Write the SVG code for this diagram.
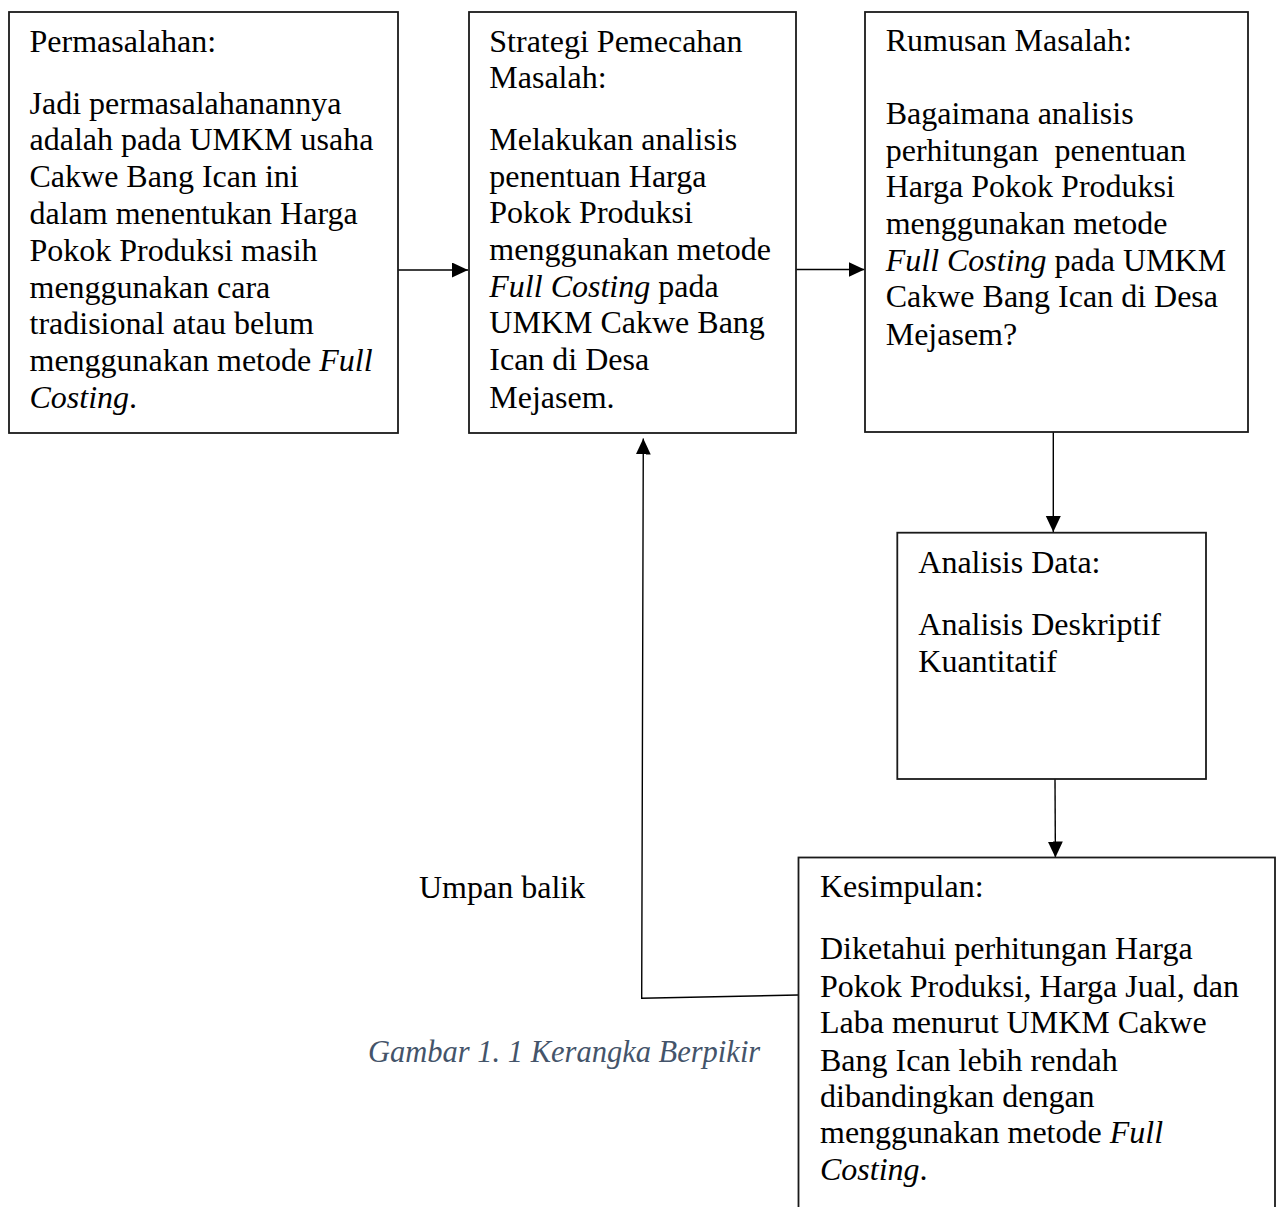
<svg xmlns="http://www.w3.org/2000/svg" width="1282" height="1207" viewBox="0 0 1282 1207">
<style>
.box{fill:#fff;stroke:#1a1a1a;stroke-width:1.8}
.t{font-family:"Liberation Serif","Times New Roman",serif;font-size:32px;fill:#000}
.i{font-style:italic}
.conn{fill:none;stroke:#000;stroke-width:1.4}
.cap{font-family:"Liberation Serif","Times New Roman",serif;font-size:30.5px;font-style:italic;fill:#44546A}
</style>
<defs>
<marker id="ah" markerUnits="userSpaceOnUse" markerWidth="16" markerHeight="16" refX="16" refY="7.5" orient="auto">
<path d="M0,0 L16,7.5 L0,15 z" fill="#000"/>
</marker>
</defs>
<rect width="1282" height="1207" fill="#fff"/>

<g id="connectors">
<line class="conn" x1="398" y1="270" x2="468" y2="270" marker-end="url(#ah)"/>
<line class="conn" x1="796" y1="269.5" x2="864.5" y2="269.5" marker-end="url(#ah)"/>
<line class="conn" x1="1053.3" y1="432" x2="1053.3" y2="532" marker-end="url(#ah)"/>
<line class="conn" x1="1055" y1="779" x2="1055.4" y2="857.5" marker-end="url(#ah)"/>
<path class="conn" d="M798,995 L641.7,998.3 L643.3,438.5" marker-end="url(#ah)"/>
</g>

<g id="node-permasalahan">
<rect class="box" x="9" y="12" width="389" height="421"/>
<text class="t" x="29.5" y="51.7">Permasalahan:</text>
<text class="t" x="29.5" y="113.5">Jadi permasalahanannya</text>
<text class="t" x="29.5" y="150.3">adalah pada UMKM usaha</text>
<text class="t" x="29.5" y="187.1">Cakwe Bang Ican ini</text>
<text class="t" x="29.5" y="223.9">dalam menentukan Harga</text>
<text class="t" x="29.5" y="260.7">Pokok Produksi masih</text>
<text class="t" x="29.5" y="297.5">menggunakan cara</text>
<text class="t" x="29.5" y="334.3">tradisional atau belum</text>
<text class="t" x="29.5" y="371.1">menggunakan metode <tspan class="i">Full</tspan></text>
<text class="t" x="29.5" y="407.9"><tspan class="i">Costing</tspan>.</text>
</g>

<g id="node-strategi">
<rect class="box" x="469" y="12" width="327" height="421"/>
<text class="t" x="489.3" y="51.7">Strategi Pemecahan</text>
<text class="t" x="489.3" y="88.3">Masalah:</text>
<text class="t" x="489.3" y="150">Melakukan analisis</text>
<text class="t" x="489.3" y="186.7">penentuan Harga</text>
<text class="t" x="489.3" y="223.3">Pokok Produksi</text>
<text class="t" x="489.3" y="260">menggunakan metode</text>
<text class="t" x="489.3" y="296.7"><tspan class="i">Full Costing</tspan> pada</text>
<text class="t" x="489.3" y="333.3">UMKM Cakwe Bang</text>
<text class="t" x="489.3" y="370">Ican di Desa</text>
<text class="t" x="489.3" y="408.3">Mejasem.</text>
</g>

<g id="node-rumusan">
<rect class="box" x="865" y="12" width="383" height="420"/>
<text class="t" x="885.7" y="50.7">Rumusan Masalah:</text>
<text class="t" x="885.7" y="124">Bagaimana analisis</text>
<text class="t" x="885.7" y="160.7" xml:space="preserve">perhitungan  penentuan</text>
<text class="t" x="885.7" y="197.3">Harga Pokok Produksi</text>
<text class="t" x="885.7" y="234">menggunakan metode</text>
<text class="t" x="885.7" y="270.7"><tspan class="i">Full Costing</tspan> pada UMKM</text>
<text class="t" x="885.7" y="307.3">Cakwe Bang Ican di Desa</text>
<text class="t" x="885.7" y="345">Mejasem?</text>
</g>

<g id="node-analisis">
<rect class="box" x="897.3" y="532.7" width="308.7" height="246.3"/>
<text class="t" x="918.3" y="572.7">Analisis Data:</text>
<text class="t" x="918.3" y="635">Analisis Deskriptif</text>
<text class="t" x="918.3" y="671.7">Kuantitatif</text>
</g>

<g id="node-kesimpulan">
<rect class="box" x="798.5" y="857.5" width="476.5" height="380"/>
<text class="t" x="820" y="897.3">Kesimpulan:</text>
<text class="t" x="820" y="959.3">Diketahui perhitungan Harga</text>
<text class="t" x="820" y="996.7">Pokok Produksi, Harga Jual, dan</text>
<text class="t" x="820" y="1033.3">Laba menurut UMKM Cakwe</text>
<text class="t" x="820" y="1070.7">Bang Ican lebih rendah</text>
<text class="t" x="820" y="1106.7">dibandingkan dengan</text>
<text class="t" x="820" y="1143.3">menggunakan metode <tspan class="i">Full</tspan></text>
<text class="t" x="820" y="1180"><tspan class="i">Costing</tspan>.</text>
</g>

<g id="label-umpan-balik">
<text class="t" x="419" y="898">Umpan balik</text>
</g>

<g id="caption">
<text class="cap" x="368" y="1062">Gambar 1. 1 Kerangka Berpikir</text>
</g>
</svg>
